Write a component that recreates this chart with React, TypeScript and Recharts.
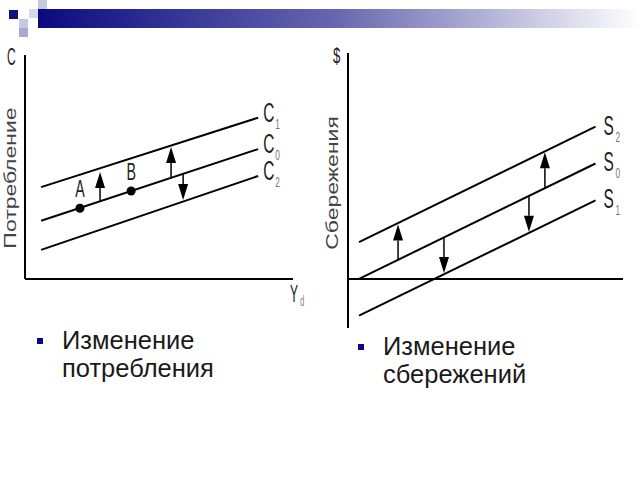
import { ComposedChart, Line, XAxis, YAxis, ReferenceLine, ReferenceDot } from "recharts";

const FONT = "'Liberation Sans', Arial, sans-serif";

// left panel: consumption shifts
const consX = [6, 87];
const consC1 = [41, 72];
const consC0 = [26, 58];
const consC2 = [13, 46];
const consNames = [
  { key: "c1", name: "C", sub: "1" },
  { key: "c0", name: "C", sub: "0" },
  { key: "c2", name: "C", sub: "2" },
];
const consPoints = [
  { name: "A", x: 20.5, y: 31.6 },
  { name: "B", x: 39.6, y: 39.3 },
];
const consArrows = [
  { x: 28, from: 34.8, to: 47.8 },
  { x: 54.5, from: 45.5, to: 58.9 },
  { x: 59, from: 47.3, to: 35.3 },
];

// right panel: savings shifts
const savX = [4, 90];
const savS2 = [15, 62];
const savS0 = [0, 47];
const savS1 = [-15, 32];
const savNames = [
  { key: "s2", name: "S", sub: "2" },
  { key: "s0", name: "S", sub: "0" },
  { key: "s1", name: "S", sub: "1" },
];
const savArrows = [
  { x: 18.2, from: 8, to: 22.2 },
  { x: 34.9, from: 17, to: 2.4 },
  { x: 71.6, from: 37, to: 51.6 },
  { x: 65.8, from: 33.8, to: 19.2 },
];

const consData = consX.map((x, i) => ({ x, c1: consC1[i], c0: consC0[i], c2: consC2[i] }));
const savData = savX.map((x, i) => ({ x, s2: savS2[i], s0: savS0[i], s1: savS1[i] }));

function Arrow(props: any) {
  const { x1, y1, x2, y2 } = props;
  const dir = y2 < y1 ? 1 : -1;
  const baseY = y2 + dir * 16;
  return (
    <g>
      <line x1={x1} y1={y1} x2={x2} y2={baseY} stroke="#000" strokeWidth={1.5} />
      <polygon points={`${x2},${y2} ${x2 - 5},${baseY} ${x2 + 5},${baseY}`} fill="#000" />
    </g>
  );
}

function Narrow({ x, y, size, children, fill = "#222", sx = 0.55, sy = 1, rotate = 0, anchor = "start" }: any) {
  return (
    <text
      transform={`translate(${x},${y}) rotate(${rotate}) scale(${sx},${sy})`}
      fontSize={size}
      fontFamily={FONT}
      fill={fill}
      textAnchor={anchor}
    >
      {children}
    </text>
  );
}

const endLabel = (name: string, sub: string, dx: number, dy: number) => (p: any) => (
  <g>
    <Narrow x={p.cx + dx} y={p.cy + dy} size={28}>{name}</Narrow>
    <Narrow x={p.cx + dx + 12} y={p.cy + dy + 7} size={15} fill="#777">{sub}</Narrow>
  </g>
);

const pointShape = (name: string) => (p: any) => (
  <g>
    <circle cx={p.cx} cy={p.cy} r={4.5} fill="#000" />
    <Narrow x={p.cx} y={p.cy - 11} size={23} sx={0.62} anchor="middle">{name}</Narrow>
  </g>
);

function ConsumptionChart() {
  const last = consData[consData.length - 1];
  return (
    <ComposedChart width={320} height={320} data={consData} margin={{ top: 55, right: 27, bottom: 0, left: 0 }}>
      <XAxis
        dataKey="x"
        type="number"
        domain={[0, 100]}
        height={41}
        tick={false}
        tickLine={false}
        axisLine={{ stroke: "#000", strokeWidth: 2 }}
        label={() => (
          <g>
            <Narrow x={290} y={302} size={24} sx={0.5}>Y</Narrow>
            <Narrow x={300} y={306} size={14} fill="#888">d</Narrow>
          </g>
        )}
      />
      <YAxis
        type="number"
        domain={[0, 100]}
        width={25}
        tick={false}
        tickLine={false}
        axisLine={{ stroke: "#000", strokeWidth: 2 }}
        label={() => (
          <g>
            <Narrow x={7} y={65} size={24} sx={0.5}>C</Narrow>
            <Narrow x={16} y={178} size={23} sx={1} sy={0.74} rotate={-90} anchor="middle" fill="#444">
              Потребление
            </Narrow>
          </g>
        )}
      />
      {consNames.map((c) => (
        <Line key={c.key} dataKey={c.key} type="linear" stroke="#000" strokeWidth={2} dot={false} isAnimationActive={false} />
      ))}
      {consNames.map((c) => (
        <ReferenceDot key={"l" + c.key} x={last.x} y={(last as any)[c.key]} shape={endLabel(c.name, c.sub, 5, 4)} />
      ))}
      {consArrows.map((a, i) => (
        <ReferenceLine key={"a" + i} segment={[{ x: a.x, y: a.from }, { x: a.x, y: a.to }]} shape={Arrow} />
      ))}
      {consPoints.map((pt) => (
        <ReferenceDot key={pt.name} x={pt.x} y={pt.y} shape={pointShape(pt.name)} />
      ))}
    </ComposedChart>
  );
}

function SavingsChart() {
  const last = savData[savData.length - 1];
  return (
    <ComposedChart width={320} height={340} data={savData} margin={{ top: 53, right: 17, bottom: 12, left: 0 }}>
      <XAxis dataKey="x" type="number" domain={[0, 100]} hide />
      <YAxis
        type="number"
        domain={[-20, 92]}
        width={28}
        tick={false}
        tickLine={false}
        axisLine={{ stroke: "#000", strokeWidth: 2 }}
        label={() => (
          <g>
            <Narrow x={13} y={63} size={22} sx={0.6}>$</Narrow>
            <Narrow x={18} y={183} size={23} sx={1} sy={0.74} rotate={-90} anchor="middle" fill="#444">
              Сбережения
            </Narrow>
          </g>
        )}
      />
      <ReferenceLine y={0} stroke="#000" strokeWidth={2} />
      {savNames.map((s) => (
        <Line key={s.key} dataKey={s.key} type="linear" stroke="#000" strokeWidth={2} dot={false} isAnimationActive={false} />
      ))}
      {savNames.map((s) => (
        <ReferenceDot key={"l" + s.key} x={last.x} y={(last as any)[s.key]} shape={endLabel(s.name, s.sub, 8, 8)} />
      ))}
      {savArrows.map((a, i) => (
        <ReferenceLine key={"a" + i} segment={[{ x: a.x, y: a.from }, { x: a.x, y: a.to }]} shape={Arrow} />
      ))}
    </ComposedChart>
  );
}

function Bullet({ left, top, lines }: { left: number; top: number; lines: string[] }) {
  return (
    <div style={{ position: "absolute", left, top, fontFamily: FONT, fontSize: 25.5, lineHeight: "28px", color: "#1a1a1a" }}>
      <div style={{ position: "absolute", left: -25, top: 12, width: 6, height: 6, background: "#0a0a80" }} />
      {lines.map((l) => (
        <div key={l}>{l}</div>
      ))}
    </div>
  );
}

export default function App() {
  const sq = (left: number, top: number, bg: string) => (
    <div style={{ position: "absolute", left, top, width: 9, height: 9, background: bg }} />
  );
  return (
    <div style={{ position: "absolute", left: 0, top: 0, width: 640, height: 480, background: "#fff", overflow: "hidden" }}>
      <div
        style={{
          position: "absolute",
          left: 38,
          top: 9,
          width: 602,
          height: 19,
          background: "linear-gradient(to right, #0a0a80, #6868b0 50%, #ffffff)",
        }}
      />
      {sq(9, 10, "#101080")}
      {sq(29, 9, "#d8d8e8")}
      {sq(38, 0, "#c8c8e0")}
      {sq(19, 19, "#c8c8e0")}
      {sq(19, 28, "#a8a8d0")}
      <div style={{ position: "absolute", left: 0, top: 0 }}>
        <ConsumptionChart />
      </div>
      <div style={{ position: "absolute", left: 320, top: 0 }}>
        <SavingsChart />
      </div>
      <Bullet left={62} top={326} lines={["Изменение", "потребления"]} />
      <Bullet left={383} top={332} lines={["Изменение", "сбережений"]} />
    </div>
  );
}
